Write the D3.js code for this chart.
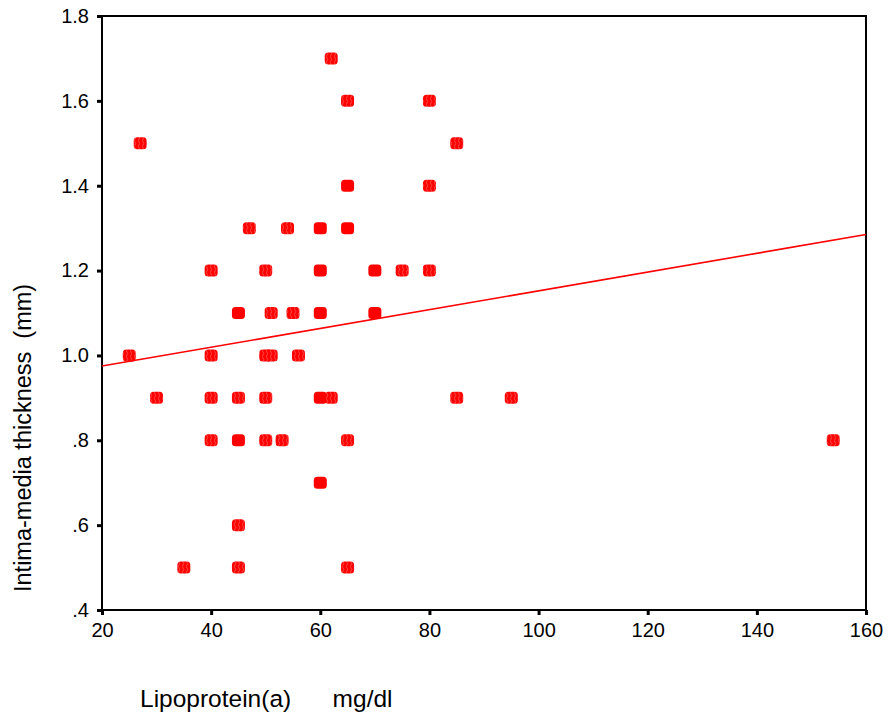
<!DOCTYPE html>
<html>
<head>
<meta charset="utf-8">
<script src="https://cdn.jsdelivr.net/npm/d3@7"></script>
<style>
  body { margin: 0; background: #fff; }
  text { font-family: "Liberation Sans", Arial, sans-serif; fill: #000; }
</style>
</head>
<body>
<div id="root"></div>
<script>
// Lp(a) in mg/dl, one entry per subject
const lpa = [
  25, 27, 30, 35,
  40, 40, 40, 40,
  45, 45, 45, 45, 45, 45, 45,
  47,
  50, 50, 50, 50,
  51, 51, 53, 54, 55, 56,
  60, 60, 60, 60, 60, 60, 60, 60, 60, 60,
  62, 62,
  65, 65, 65, 65, 65, 65, 65,
  70, 70, 70, 70,
  75,
  80, 80, 80,
  85, 85,
  95,
  154,
]
// intima-media thickness in mm, same order
const imt = [
  1.0, 1.5, 0.9, 0.5,
  1.2, 1.0, 0.9, 0.8,
  1.1, 1.1, 0.9, 0.8, 0.8, 0.6, 0.5,
  1.3,
  1.2, 1.0, 0.9, 0.8,
  1.1, 1.0, 0.8, 1.3, 1.1, 1.0,
  1.3, 1.3, 1.2, 1.2, 1.1, 1.1, 0.9, 0.9, 0.7, 0.7,
  1.7, 0.9,
  1.6, 1.4, 1.4, 1.3, 1.3, 0.8, 0.5,
  1.2, 1.2, 1.1, 1.1,
  1.2,
  1.6, 1.4, 1.2,
  1.5, 0.9,
  0.9,
  0.8,
]

// fit line
const fitX = [20, 160]
const fitY = [0.975, 1.285]

const xTicks = [20, 40, 60, 80, 100, 120, 140, 160]
const yTicks = [0.4, 0.6, 0.8, 1.0, 1.2, 1.4, 1.6, 1.8]
const yTickLabels = [".4", ".6", ".8", "1.0", "1.2", "1.4", "1.6", "1.8"]

const xTitle = "Lipoprotein(a)   mg/dl"
const yTitle = "Intima-media thickness  (mm)"

const width = 889
const height = 717
const margin = { top: 16, right: 23, bottom: 107, left: 102 }
const boundedWidth = width - margin.left - margin.right
const boundedHeight = height - margin.top - margin.bottom

const svg = d3.select("#root").append("svg")
  .attr("width", width)
  .attr("height", height)

// hatch texture used by single (non-overlapping) markers
const pattern = svg.append("defs").append("pattern")
  .attr("id", "hatch")
  .attr("patternUnits", "userSpaceOnUse")
  .attr("width", 4)
  .attr("height", 6)
pattern.append("rect")
  .attr("width", 4).attr("height", 6)
  .attr("fill", "#ff0000")
pattern.append("path")
  .attr("d", "M1,0 Q2.5,1.5 1,3 Q-0.5,4.5 1,6")
  .attr("fill", "none")
  .attr("stroke", "#ff5a5a")
  .attr("stroke-width", 0.8)

const bounds = svg.append("g")
  .attr("transform", `translate(${margin.left},${margin.top})`)

const xScale = d3.scaleLinear()
  .domain([20, 160])
  .range([0, boundedWidth])

const yScale = d3.scaleLinear()
  .domain([0.4, 1.8])
  .range([boundedHeight, 0])

// axes
const xAxis = bounds.append("g")
  .attr("transform", `translate(0,${boundedHeight})`)
  .call(d3.axisBottom(xScale).tickValues(xTicks).tickSize(5).tickPadding(8))
xAxis.select(".domain").remove()
xAxis.selectAll("line").attr("stroke-width", 3).attr("stroke", "#000")
xAxis.selectAll("text")
  .style("font-size", "20px")
  .style("font-family", "'Liberation Sans', Arial, sans-serif")
  .attr("fill", "#000")

const yAxis = bounds.append("g")
  .call(d3.axisLeft(yScale).tickValues(yTicks).tickSize(5).tickPadding(8)
    .tickFormat((d, i) => yTickLabels[i]))
yAxis.select(".domain").remove()
yAxis.selectAll("line").attr("stroke-width", 3).attr("stroke", "#000")
yAxis.selectAll("text")
  .style("font-size", "20px")
  .style("font-family", "'Liberation Sans', Arial, sans-serif")
  .attr("fill", "#000")

// frame
bounds.append("rect")
  .attr("width", boundedWidth)
  .attr("height", boundedHeight)
  .attr("fill", "none")
  .attr("stroke", "#000")
  .attr("stroke-width", 2)

// points, solid where several subjects share the same spot
const points = lpa.map((d, i) => ({ x: d, y: imt[i] }))
const counts = d3.rollup(points, v => v.length, d => d.x, d => d.y)
const unique = []
counts.forEach((m, x) => m.forEach((n, y) => unique.push({ x, y, n })))

bounds.append("g")
  .selectAll("rect")
  .data(unique)
  .join("rect")
  .attr("x", d => xScale(d.x) - 6.5)
  .attr("y", d => yScale(d.y) - 6)
  .attr("width", 13)
  .attr("height", 12)
  .attr("rx", 3.5)
  .attr("fill", d => d.n > 1 ? "#ff0000" : "url(#hatch)")

// fit line
bounds.append("line")
  .attr("x1", xScale(fitX[0]))
  .attr("x2", xScale(fitX[1]))
  .attr("y1", yScale(fitY[0]))
  .attr("y2", yScale(fitY[1]))
  .attr("stroke", "#ff0000")
  .attr("stroke-width", 1.6)

// titles
svg.append("text")
  .attr("x", 140)
  .attr("y", 707)
  .style("font-size", "24.5px")
  .style("white-space", "pre")
  .style("word-spacing", "7px")
  .text(xTitle)

svg.append("text")
  .attr("transform", "translate(31,592) rotate(-90)")
  .style("font-size", "23.5px")
  .style("white-space", "pre")
  .text(yTitle)
</script>
</body>
</html>
